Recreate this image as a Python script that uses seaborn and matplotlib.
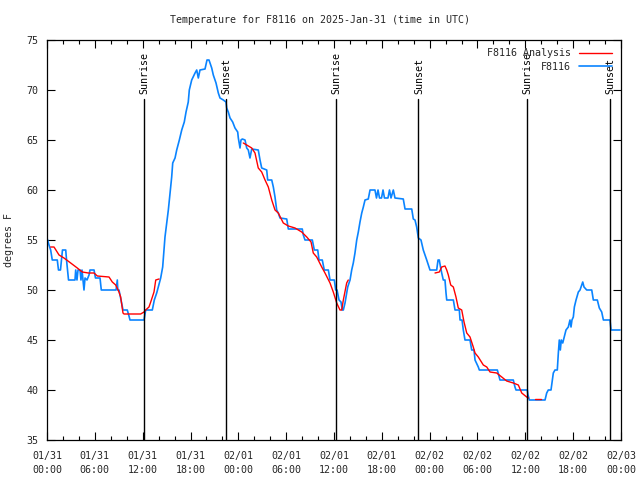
import matplotlib
matplotlib.use("Agg")
import matplotlib.pyplot as plt
import seaborn as sns
import pandas as pd
from matplotlib.ticker import MultipleLocator, FixedLocator

# ---- data (hours since 2025-01-31 00:00 UTC, degrees F) ----
obs_hours = [0.04, 0.25, 0.46, 0.66, 1.29, 1.44, 1.69, 1.82, 1.94, 2.35, 2.45, 2.57, 2.70, 3.51, 3.60, 3.76,
             3.89, 4.14, 4.26, 4.39, 4.64, 4.77, 5.02, 5.27, 5.39, 5.90, 6.08, 6.65, 6.81, 8.66, 8.82, 8.88,
             9.03, 9.16, 9.28, 9.41, 9.53, 10.07, 10.25, 10.41, 12.17, 12.28, 12.38, 13.21, 13.46, 13.76,
             13.96, 14.26, 14.51, 14.68, 14.80, 15.02, 15.22, 15.43, 15.64, 15.77, 16.06, 16.27, 16.60,
             16.90, 17.22, 17.44, 17.72, 17.85, 18.15, 18.57, 18.78, 18.98, 19.19, 19.82, 20.07, 20.32,
             20.66, 20.86, 21.20, 21.49, 21.70, 22.12, 22.45, 22.54, 22.74, 22.96, 23.29, 23.58, 23.92,
             24.00, 24.21, 24.33, 24.50, 24.84, 25.05, 25.25, 25.46, 25.68, 26.50, 26.72, 26.93, 27.56,
             27.68, 28.19, 28.39, 28.60, 28.81, 29.01, 29.23, 30.07, 30.27, 32.02, 32.15, 32.36, 33.28,
             33.53, 33.96, 34.12, 34.53, 34.78, 35.29, 35.50, 36.04, 36.21, 36.38, 36.63, 36.88, 37.04,
             37.17, 37.38, 37.51, 37.72, 38.01, 38.22, 38.42, 38.63, 38.85, 39.05, 39.26, 39.48, 39.68,
             39.89, 40.30, 40.52, 41.14, 41.33, 41.52, 41.71, 41.96, 42.15, 42.33, 42.77, 42.96, 43.15,
             43.44, 43.65, 44.69, 44.91, 45.75, 45.95, 46.16, 46.37, 46.58, 46.91, 47.20, 47.63, 48.04,
             48.88, 49.05, 49.21, 49.36, 49.51, 49.71, 49.92, 50.05, 50.14, 50.97, 51.18, 51.72, 51.81,
             52.06, 52.22, 52.43, 53.06, 53.27, 53.56, 53.69, 54.10, 54.23, 56.49, 56.82, 58.49, 58.70,
             58.83, 60.25, 60.34, 60.50, 62.47, 62.68, 62.88, 63.22, 63.51, 63.72, 64.01, 64.14, 64.26,
             64.39, 64.51, 64.69, 64.85, 65.10, 65.39, 65.60, 65.73, 65.85, 66.02, 66.15, 66.36, 66.65,
             66.86, 67.20, 67.36, 67.70, 68.33, 68.53, 69.03, 69.28, 69.58, 69.79, 70.62, 70.75, 71.88]
obs_temps = [55.1, 54.5, 54.0, 53.0, 53.0, 52.0, 52.0, 53.0, 54.0, 54.0, 53.0, 52.0, 51.0, 51.0, 52.0, 51.0,
             52.0, 52.0, 51.0, 52.0, 50.0, 51.2, 51.0, 51.5, 52.0, 52.0, 51.2, 51.2, 50.0, 50.0, 51.0, 50.0,
             50.0, 49.5, 49.0, 48.5, 48.0, 48.0, 47.5, 47.0, 47.0, 47.5, 48.0, 48.0, 49.0, 49.7,
             50.3, 51.2, 52.3, 54.0, 55.3, 56.7, 58.0, 59.7, 61.3, 62.7, 63.2, 64.0, 65.0,
             66.0, 66.8, 67.8, 68.8, 70.0, 71.0, 71.7, 72.0, 71.2, 72.0, 72.1, 73.0, 73.0,
             72.2, 71.5, 70.7, 69.7, 69.2, 69.0, 68.8, 68.2, 67.8, 67.2, 66.8, 66.2, 65.8,
             65.2, 64.2, 65.0, 65.1, 65.0, 64.2, 64.0, 63.2, 64.1, 64.0, 63.0, 62.2, 62.0,
             61.0, 61.0, 60.3, 59.3, 58.0, 57.7, 57.2, 57.1, 56.1, 56.1, 55.5, 55.0, 55.0,
             54.0, 54.0, 53.0, 53.0, 52.0, 52.0, 51.0, 51.0, 50.0, 50.0, 49.0, 48.8, 48.0,
             48.0, 48.7, 49.3, 50.3, 51.0, 52.0, 52.7, 53.7, 55.0, 55.8, 56.8, 57.7, 58.3,
             59.0, 59.1, 60.0, 60.0, 59.2, 60.0, 59.2, 59.2, 60.0, 59.2, 59.2, 60.0, 59.2,
             60.0, 59.2, 59.1, 58.1, 58.1, 57.1, 57.0, 56.3, 55.2, 55.0, 54.0, 53.0, 52.0,
             52.0, 53.0, 53.0, 52.3, 51.7, 51.0, 51.0, 49.7, 49.0, 49.0, 48.0, 48.0, 47.0,
             47.0, 46.0, 45.0, 45.0, 44.0, 44.0, 43.0, 42.3, 42.0, 42.0, 41.0, 41.0, 40.3,
             40.0, 40.0, 39.5, 39.0, 39.0, 39.7, 40.0, 40.0, 41.7, 42.0, 42.0, 43.7, 45.0,
             44.0, 45.0, 44.7, 45.2, 46.0, 46.3, 47.0, 46.3, 47.0, 47.3, 48.3, 49.0, 49.8,
             50.0, 50.8, 50.3, 50.0, 50.0, 49.0, 49.0, 48.2, 47.8, 47.0, 47.0, 46.0, 46.0]

ana1_hours = [0.46, 0.88, 1.51, 2.13, 2.97, 3.80, 4.43, 5.18, 5.90, 6.31, 7.78, 8.19, 8.62, 9.03, 9.24,
              9.53, 9.66, 11.75, 12.17, 12.38, 12.79, 13.01, 13.42, 13.64, 14.05]
ana1_temps = [54.3, 54.3, 53.5, 53.2, 52.7, 52.2, 51.8, 51.7, 51.7, 51.4, 51.3, 50.8, 50.5, 49.8, 49.3,
              47.7, 47.6, 47.6, 47.8, 48.0, 48.3, 48.8, 49.8, 51.0, 51.1]
ana2_hours = [24.62, 25.05, 25.68, 26.09, 26.50, 26.93, 27.35, 27.76, 28.19, 28.60, 29.01, 29.64, 30.27,
              31.11, 31.95, 32.58, 33.12, 33.40, 33.83, 34.46, 34.87, 35.50, 35.91, 36.34, 36.75, 36.97,
              37.17, 37.59, 37.79]
ana2_temps = [64.7, 64.5, 64.2, 63.7, 62.2, 61.8, 61.0, 60.3, 59.0, 58.0, 57.7, 56.7, 56.4,
              56.2, 55.8, 55.3, 54.8, 53.7, 53.3, 52.3, 51.7, 50.7, 49.8, 48.7, 48.0, 48.0,
              49.0, 50.7, 51.0]
ana3_hours = [48.67, 49.21, 49.51, 49.92, 50.14, 50.34, 50.64, 50.97, 51.30, 51.59, 52.02, 52.31, 52.65,
              53.06, 53.47, 53.69, 54.10, 54.73, 55.16, 55.57, 56.41, 57.04, 57.66, 58.49, 59.12, 59.55,
              60.17, 60.38]
ana3_temps = [51.7, 51.8, 52.3, 52.4, 52.0, 51.5, 50.5, 50.3, 49.3, 48.2, 48.0, 46.8, 45.7,
              45.3, 44.3, 43.7, 43.3, 42.5, 42.3, 41.8, 41.7, 41.3, 40.9, 40.7, 40.5, 39.7,
              39.3, 39.2]
ana4_hours = [61.21, 61.93]
ana4_temps = [39.1, 39.1]

sun_hours = [12.17, 22.45, 36.25, 46.55, 60.20, 70.60]
sun_labels = ["Sunrise", "Sunset", "Sunrise", "Sunset", "Sunrise", "Sunset"]

xtick_hours = list(range(0, 73, 6))
xtick_labels = ["01/31\n00:00", "01/31\n06:00", "01/31\n12:00", "01/31\n18:00",
                "02/01\n00:00", "02/01\n06:00", "02/01\n12:00", "02/01\n18:00",
                "02/02\n00:00", "02/02\n06:00", "02/02\n12:00", "02/02\n18:00", "02/03\n00:00"]
ytick_values = [35, 40, 45, 50, 55, 60, 65, 70, 75]

title = "Temperature for F8116 on 2025-Jan-31 (time in UTC)"

# ---- plotting ----
sns.set_style("ticks")
plt.rcParams['font.family'] = ['DejaVu Sans Mono', 'DejaVu Sans']
FS = 7.2
RED = "#ff0000"
BLUE = "#0a84ff"

fig = plt.figure(figsize=(6.4, 4.8), dpi=100)
ax = fig.add_axes([47/640, 40/480, 574/640, 400/480])

obs = pd.DataFrame({"hour": obs_hours, "temp": obs_temps})
segs = [(ana1_hours, ana1_temps), (ana2_hours, ana2_temps), (ana3_hours, ana3_temps), (ana4_hours, ana4_temps)]

for i, (h, t) in enumerate(segs):
    d = pd.DataFrame({"hour": h, "temp": t})
    sns.lineplot(data=d, x="hour", y="temp", ax=ax, color=RED, lw=1.0, sort=False,
                 estimator=None, label="F8116 Analysis" if i == 0 else None, legend=False, zorder=3)
sns.lineplot(data=obs, x="hour", y="temp", ax=ax, color=BLUE, lw=1.2, sort=False,
             estimator=None, label="F8116", legend=False, zorder=2)

for h, lab in zip(sun_hours, sun_labels):
    ax.plot([h, h], [35, 69.1], color="black", lw=1.0, zorder=4)
    ax.text(h + 0.1, 69.6, lab, rotation=90, ha="center", va="bottom", fontsize=FS, color="black")

ax.set_xlim(0, 72)
ax.set_ylim(35, 75)
ax.xaxis.set_major_locator(FixedLocator(xtick_hours))
ax.set_xticklabels(xtick_labels, linespacing=1.45)
ax.xaxis.set_minor_locator(MultipleLocator(2))
ax.yaxis.set_major_locator(FixedLocator(ytick_values))
ax.set_yticklabels([str(v) for v in ytick_values])

ax.tick_params(axis="both", which="both", direction="in", top=True, right=True,
               labelsize=FS, color="black", width=0.8)
ax.tick_params(axis="both", which="major", length=6)
ax.tick_params(axis="x", which="major", pad=8)
ax.tick_params(axis="x", which="minor", length=3)
ax.tick_params(axis="y", which="major", pad=6)
for s in ax.spines.values():
    s.set_linewidth(0.9)
    s.set_color("black")

ax.set_xlabel("")
ax.set_ylabel("degrees F", fontsize=FS, labelpad=9)
fig.text(0.5, 1 - 20/480, title, ha="center", va="center", fontsize=FS)

handles, labels = ax.get_legend_handles_labels()
ax.legend(handles, labels, loc="upper right", frameon=False, markerfirst=False,
          fontsize=FS, handlelength=3.3, handletextpad=0.8, labelspacing=0.35,
          borderaxespad=0.3, bbox_to_anchor=(0.997, 0.997))

fig.savefig("out.png", dpi=100)
